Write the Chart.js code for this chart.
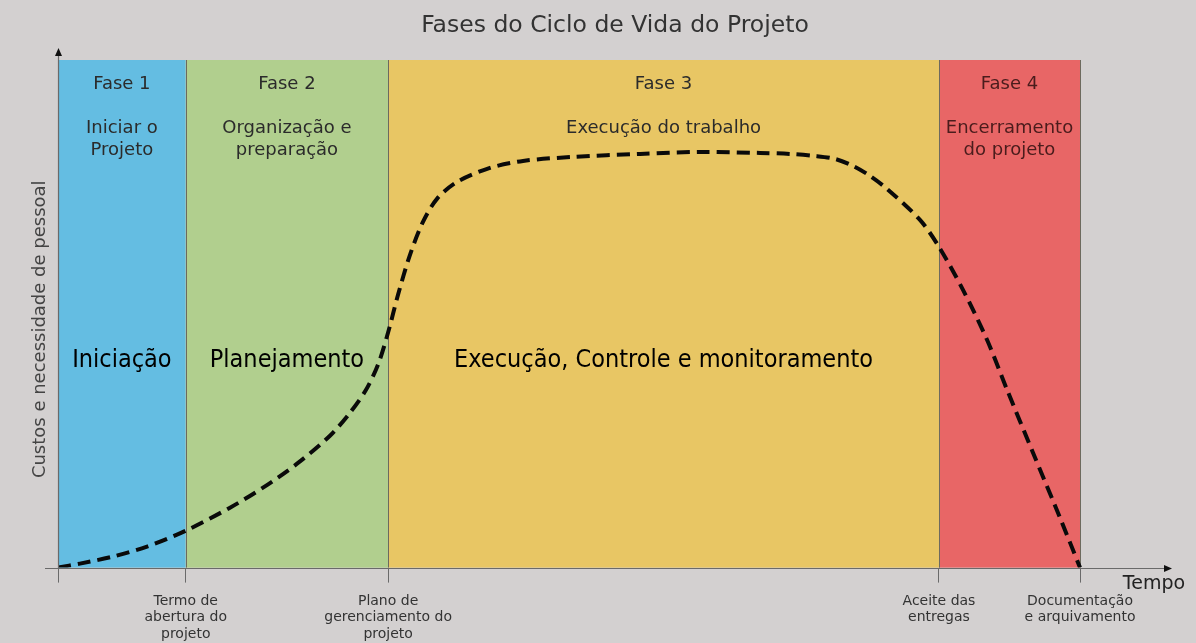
<!DOCTYPE html>
<html><head><meta charset="utf-8">
<script src="https://cdn.jsdelivr.net/npm/chart.js@4.4.1/dist/chart.umd.min.js"></script>
<style>html,body{margin:0;padding:0;background:#d3d0d0;overflow:hidden}#wrap{width:1196px;height:643px}</style>
</head><body><div id="wrap"><canvas id="c" width="1196" height="643"></canvas></div>
<script>
// ---- data ----
const timeX   = [0, 2.15, 5.38, 8.71, 12.52, 16.83, 20.06, 23.39, 26.61, 28.57, 30.14, 31.31, 32.29, 33.27, 34.44, 35.71, 37.08, 39.04, 42.27, 45.50, 50.39, 56.95, 62.82, 68.69, 71.62, 74.07, 76.03, 77.79, 79.45, 81.12, 84.34, 86.20, 88.55, 90.90, 92.86, 95.40, 98.04, 100];
const effortY = [0, 0.79, 2.17, 4.13, 7.28, 11.81, 15.75, 20.47, 25.98, 30.51, 35.04, 39.96, 46.26, 53.74, 61.61, 68.11, 72.64, 75.98, 78.74, 80.12, 80.91, 81.50, 81.89, 81.69, 81.50, 81.10, 80.51, 79.13, 77.17, 74.61, 68.50, 63.19, 54.72, 44.88, 35.04, 22.64, 9.84, 0];
const milestoneX = [0, 12.5, 32.3, 86.2, 100];
const milestoneLabels = [[''], ['Termo de', 'abertura do', 'projeto'], ['Plano de', 'gerenciamento do', 'projeto'], ['Aceite das', 'entregas'], ['Documentação', 'e arquivamento']];
const phaseNames = ['Fase 1', 'Fase 2', 'Fase 3', 'Fase 4'];
const phaseDesc = [['Iniciar o', 'Projeto'], ['Organização e', 'preparação'], ['Execução do trabalho'], ['Encerramento', 'do projeto']];
const processGroups = ['Iniciação', 'Planejamento', 'Execução, Controle e monitoramento', ''];
const chartTitle = 'Fases do Ciclo de Vida do Projeto';
const yTitle = 'Custos e necessidade de pessoal';
const xTitle = 'Tempo';

// ---- styles ----
const FONT = "'DejaVu Sans', sans-serif";
const BIGFONT = "'DejaVu Sans Condensed', 'DejaVu Sans', sans-serif";
const bandColors = ['#64bde2', '#b1cf8e', '#e8c664', '#e86666'];
const bandTextColors = ['#2b2b2b', '#2b2b2b', '#2b2b2b', '#4a1c1c'];

const phasePlugin = {
  id: 'phases',
  beforeDatasetsDraw(chart) {
    const {ctx, scales: {x, y}} = chart;
    const top = y.getPixelForValue(100), base = y.getPixelForValue(0);
    ctx.save();
    for (let i = 0; i < 4; i++) {
      const x0 = x.getPixelForValue(milestoneX[i]), x1 = x.getPixelForValue(milestoneX[i + 1]);
      ctx.fillStyle = bandColors[i];
      ctx.fillRect(x0, top, x1 - x0, base - top);
    }
    ctx.strokeStyle = '#6d6a5e';
    ctx.lineWidth = 1;
    for (let i = 1; i < milestoneX.length; i++) {
      const px = Math.round(x.getPixelForValue(milestoneX[i])) + 0.5;
      ctx.beginPath(); ctx.moveTo(px, top); ctx.lineTo(px, base); ctx.stroke();
    }
    ctx.textAlign = 'center';
    ctx.textBaseline = 'middle';
    for (let i = 0; i < 4; i++) {
      const cx = (x.getPixelForValue(milestoneX[i]) + x.getPixelForValue(milestoneX[i + 1])) / 2;
      ctx.fillStyle = bandTextColors[i];
      ctx.font = '18px ' + FONT;
      ctx.fillText(phaseNames[i], cx, top + 24);
      ctx.font = '18px ' + FONT;
      phaseDesc[i].forEach((t, k) => ctx.fillText(t, cx, top + 68 + k * 22));
      ctx.fillStyle = '#000';
      ctx.font = '25px ' + BIGFONT;
      ctx.fillText(processGroups[i], cx, top + 300);
    }
    ctx.restore();
  },
  afterDraw(chart) {
    const {ctx, scales: {x, y}} = chart;
    const x0 = x.getPixelForValue(0), y0 = Math.round(y.getPixelForValue(0)) + 0.5;
    const xr = chart.chartArea.right, yt = chart.chartArea.top - 10;
    ctx.save();
    ctx.strokeStyle = '#6a6a6a';
    ctx.lineWidth = 1.2;
    ctx.beginPath(); ctx.moveTo(x0 - 13, y0); ctx.lineTo(xr - 4, y0); ctx.stroke();
    ctx.beginPath(); ctx.moveTo(Math.round(x0) + 0.5, y0); ctx.lineTo(Math.round(x0) + 0.5, yt + 4); ctx.stroke();
    ctx.fillStyle = '#111';
    ctx.beginPath(); ctx.moveTo(xr, y0); ctx.lineTo(xr - 8, y0 - 3.5); ctx.lineTo(xr - 8, y0 + 3.5); ctx.closePath(); ctx.fill();
    ctx.beginPath(); ctx.moveTo(Math.round(x0) + 0.5, yt - 2); ctx.lineTo(Math.round(x0) - 3, yt + 6); ctx.lineTo(Math.round(x0) + 4, yt + 6); ctx.closePath(); ctx.fill();
    ctx.fillStyle = '#222';
    ctx.font = '19px ' + FONT;
    ctx.textAlign = 'center'; ctx.textBaseline = 'middle';
    ctx.fillText(xTitle, xr - 18, y0 + 16);
    ctx.fillStyle = '#444';
    ctx.font = '18px ' + FONT;
    ctx.translate(x0 - 18, (chart.chartArea.top + y0) / 2 + 15);
    ctx.rotate(-Math.PI / 2);
    ctx.fillText(yTitle, 0, 0);
    ctx.restore();
  }
};

new Chart(document.getElementById('c'), {
  type: 'line',
  data: {
    datasets: [{
      data: timeX.map((v, i) => ({x: v, y: effortY[i]})),
      borderColor: '#0a0a0a',
      borderWidth: 4,
      borderDash: [13, 7],
      pointRadius: 0,
      fill: false,
      tension: 0.3
    }]
  },
  options: {
    responsive: false,
    animation: false,
    layout: {padding: {left: 58, right: 24, top: 0, bottom: -10}},
    plugins: {
      legend: {display: false},
      tooltip: {enabled: false},
      title: {
        display: true, text: chartTitle, color: '#333',
        font: {family: FONT, size: 23.5, weight: 'normal'},
        padding: {top: 12, bottom: 19.8}
      }
    },
    scales: {
      x: {
        type: 'linear', min: 0, max: 109,
        afterBuildTicks: s => { s.ticks = milestoneX.map(v => ({value: v})); },
        ticks: {
          autoSkip: false, maxRotation: 0, padding: 10, color: '#333',
          font: {family: FONT, size: 14, lineHeight: 1.2},
          callback: v => milestoneLabels[milestoneX.indexOf(v)]
        },
        grid: {display: true, drawOnChartArea: false, drawTicks: true, tickLength: 15, color: '#6a6a6a'},
        border: {display: false}
      },
      y: {
        type: 'linear', min: 0, max: 100, display: false
      }
    }
  },
  plugins: [phasePlugin]
});
</script>
</body></html>
